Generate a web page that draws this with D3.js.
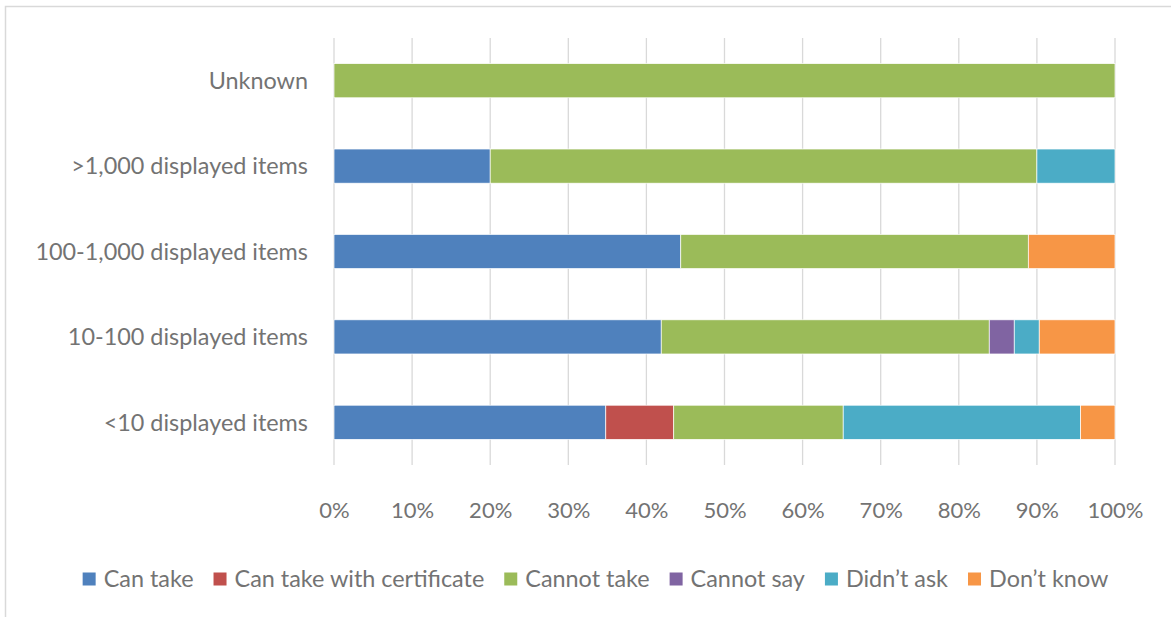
<!DOCTYPE html>
<html><head><meta charset="utf-8">
<script src="https://cdn.jsdelivr.net/npm/d3@7"></script>
<style>body{margin:0;background:#fff}svg{display:block}text{font-family:Lato,"Open Sans",sans-serif;fill:#737373}</style>
</head><body><svg id="c" width="1171" height="617"></svg>
<script>
const categories = ["Unknown", ">1,000 displayed items", "100-1,000 displayed items", "10-100 displayed items", "<10 displayed items"];
const seriesNames = ["Can take", "Can take with certificate", "Cannot take", "Cannot say", "Didn\u2019t ask", "Don\u2019t know"];
const colors = ["#4f81bd", "#c0504d", "#9bbb59", "#8064a2", "#4bacc6", "#f79646"];
const canTake = [0, 20, 44.4, 41.9, 34.8];
const canTakeCert = [0, 0, 0, 0, 8.7];
const cannotTake = [100, 70, 44.5, 42.0, 21.7];
const cannotSay = [0, 0, 0, 3.2, 0];
const didntAsk = [0, 10, 0, 3.2, 30.4];
const dontKnow = [0, 0, 11.1, 9.7, 4.4];
const tickLabels = ["0%","10%","20%","30%","40%","50%","60%","70%","80%","90%","100%"];

const series = [canTake, canTakeCert, cannotTake, cannotSay, didntAsk, dontKnow];
const rows = categories.map((c, i) => { const o = {cat: c}; seriesNames.forEach((s, j) => o[s] = series[j][i]); return o; });
const stacked = d3.stack().keys(seriesNames)(rows);

const svg = d3.select("#c");
svg.append("rect").attr("x", 5.5).attr("y", 6.5).attr("width", 1180).attr("height", 620).attr("fill", "none").attr("stroke", "#d9d9d9").attr("stroke-width", 1.5);

const x = d3.scaleLinear().domain([0, 100]).range([334, 1115]);
const y = d3.scaleBand().domain(categories).range([38, 465]).paddingInner(0.6).paddingOuter(0.3);

const grid = svg.append("g");
grid.selectAll("line").data(d3.range(0, 101, 10)).join("line")
  .attr("x1", d => x(d)).attr("x2", d => x(d)).attr("y1", 38).attr("y2", 465)
  .attr("stroke", "#d9d9d9").attr("stroke-width", 1.3);

svg.append("g").selectAll("g").data(stacked).join("g").attr("fill", (d, i) => colors[i])
  .selectAll("rect").data(d => d).join("rect")
  .attr("x", d => x(d[0])).attr("width", d => Math.max(0, x(d[1]) - x(d[0])))
  .attr("y", d => y(d.data.cat)).attr("height", y.bandwidth())
  .attr("stroke", "#fff").attr("stroke-width", 0.7);

const xa = d3.axisBottom(x).tickValues(d3.range(0, 101, 10)).tickFormat((d, i) => tickLabels[i]).tickSize(0).tickPadding(0);
const gx = svg.append("g").attr("transform", "translate(0,510)").call(xa);
gx.select(".domain").remove();
gx.selectAll("text").attr("font-size", 22).attr("dy", "0.35em").style("fill", "#737373").style("font-family", "Lato,'Open Sans',sans-serif");

const ya = d3.axisLeft(y).tickSize(0).tickPadding(0);
const gy = svg.append("g").attr("transform", "translate(308,0)").call(ya);
gy.select(".domain").remove();
gy.selectAll("text").attr("font-size", 23.4).attr("dy", "0.35em").style("fill", "#737373").style("font-family", "Lato,'Open Sans',sans-serif");

// legend
const leg = svg.append("g");
const items = leg.selectAll("g").data(seriesNames).join("g");
items.append("rect").attr("width", 13).attr("height", 13).attr("y", -6.5).attr("fill", (d, i) => colors[i]);
items.append("text").attr("x", 21).attr("dy", "0.35em").attr("font-size", 23.4).text(d => d);
let cx = 0; const pos = [];
items.each(function () { pos.push(cx); cx += this.getBBox().width + 20; });
const total = cx - 20;
const start = (86 + 1105) / 2 - total / 2;
items.attr("transform", (d, i) => `translate(${start + pos[i]},579)`);
</script></body></html>
